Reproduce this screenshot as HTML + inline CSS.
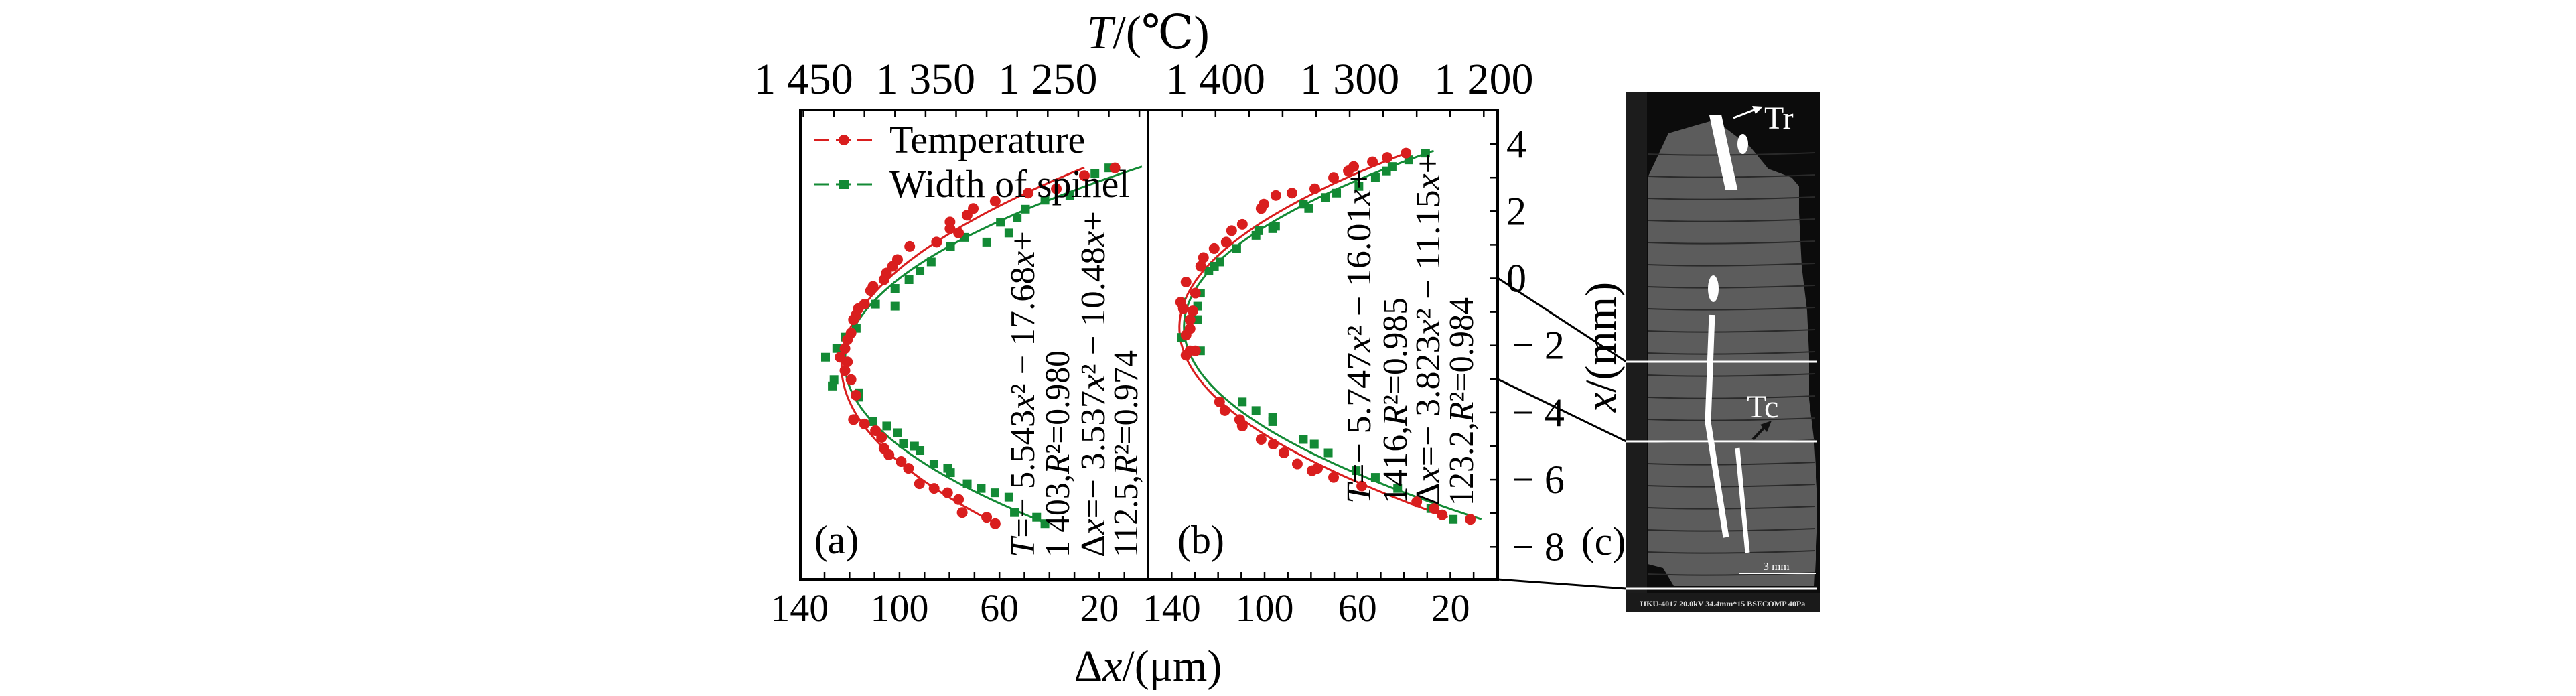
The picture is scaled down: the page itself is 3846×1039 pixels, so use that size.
<!DOCTYPE html>
<html><head><meta charset="utf-8"><style>
html,body{margin:0;padding:0;background:#fff}
svg{display:block}
text{font-family:"Liberation Serif","DejaVu Serif",serif;fill:#000}
</style></head><body>
<svg id="chart" width="3846" height="1039" viewBox="0 0 3846 1039" xmlns="http://www.w3.org/2000/svg">
<g id="plots"></g>
</svg>
<script>
// ----- Panel (a) data -----
const aTempX = [3.29,3.06,2.67,2.54,2.30,2.08,1.88,1.68,1.48,1.35,1.08,0.95,0.56,0.36,0.16,-0.04,-0.24,-0.37,-0.77,-0.90,-1.10,-1.23,-1.63,-1.83,-2.09,-2.35,-2.49,-2.75,-3.02,-3.48,-4.21,-4.34,-4.54,-4.74,-5.07,-5.26,-5.46,-5.66,-6.12,-6.26,-6.39,-6.59,-6.98,-7.12,-7.31];
const aTempT = [1195,1220,1243,1266,1293,1311,1316,1330,1330,1323,1341,1363,1373,1377,1382,1384,1393,1395,1400,1405,1407,1409,1411,1414,1416,1420,1414,1416,1411,1407,1409,1400,1391,1386,1384,1380,1370,1364,1355,1343,1332,1323,1320,1300,1293];
const aWidthX = [3.29,3.13,2.47,2.33,2.06,1.80,1.67,1.35,1.08,1.22,0.95,0.49,0.22,-0.04,-0.30,-0.83,-0.77,-1.49,-1.75,-2.09,-2.35,-3.02,-3.21,-3.41,-3.54,-4.27,-4.40,-4.60,-4.93,-5.00,-5.13,-5.53,-5.66,-5.79,-6.12,-6.26,-6.39,-6.52,-6.98,-7.12,-7.31];
const aWidthD = [16.2,21.8,31.8,41.8,49.6,52.9,59.6,56.2,65.1,74.0,79.6,87.3,91.8,96.2,101.8,101.8,109.6,117.3,121.8,125.1,129.6,126.2,126.9,116.2,116.2,110.7,105.1,100.7,98.4,94.0,91.8,86.2,80.7,79.6,72.9,67.3,61.8,56.2,54.0,45.1,41.8];
const aTempFit = [1380.2,-29.7,-5.71];
const aTempFitRange = [-7.31,3.3];
const aWidthFit = [100.0,-17.49,-3.50];
const aWidthFitRange = [-7.31,3.33];
// ----- Panel (b) data -----
const bTempX = [3.73,3.60,3.47,3.33,3.20,3.00,2.67,2.54,2.47,2.21,2.08,1.61,1.42,1.08,0.89,0.62,0.36,-0.11,-0.44,-0.71,-0.90,-0.97,-1.23,-1.50,-1.69,-2.16,-2.16,-2.29,-3.68,-3.94,-4.21,-4.40,-4.80,-4.94,-5.20,-5.53,-5.73,-5.66,-5.93,-6.19,-6.66,-6.86,-7.05,-7.18];
const bTempT = [1258,1272,1283,1297,1301,1312,1326,1343,1355,1364,1366,1380,1388,1392,1401,1409,1411,1422,1415,1426,1424,1417,1419,1419,1422,1419,1415,1422,1397,1393,1382,1380,1366,1357,1349,1339,1328,1324,1312,1291,1250,1237,1231,1210];
const bWidthX = [3.73,3.53,3.33,3.20,3.00,2.74,2.54,2.41,2.21,2.08,1.55,1.48,1.42,1.28,0.89,0.49,0.36,0.22,-0.44,-0.83,-0.71,-1.23,-1.76,-2.16,-3.68,-3.94,-4.14,-4.27,-4.80,-4.94,-5.20,-5.73,-5.93,-6.26,-6.86,-7.18];
const bWidthD = [30.7,37.9,45.1,47.5,52.3,59.4,69.0,73.8,83.3,81.0,95.3,96.5,102.5,103.7,112.0,119.2,121.6,124.0,127.6,128.8,135.9,128.8,135.9,127.6,109.6,103.7,96.5,96.5,83.3,78.6,72.6,60.6,52.3,42.7,28.4,18.8];
const bTempFit = [1413.5,-18.36,-6.26];
const bTempFitRange = [-7.12,3.73];
const bWidthFit = [126.5,-11.31,-3.90];
const bWidthFitRange = [-7.18,3.80];
// ----- Axis ticks -----
const aTopTicks = [1450,1350,1250];
const aTopTickLabels = ["1 450","1 350","1 250"];
const aBottomTicks = [140,100,60,20];
const bTopTicks = [1400,1300,1200];
const bTopTickLabels = ["1 400","1 300","1 200"];
const bBottomTicks = [140,100,60,20];
const yTicks = [4,2,0,-2,-4,-6,-8];
const yTickLabels = ["4","2","0","\u2212 2","\u2212 4","\u2212 6","\u2212 8"];

// ----- scales -----
const yS = v => 415.5 - v*50.1;
const aD = d => 1193.7 + (140-d)*3.731;
const aT = t => 1199.5 + (1450-t)*1.824;
const bD = d => 1749.3 + (140-d)*3.468;
const bT = t => 1814.8 + (1400-t)*2.0025;

const NS="http://www.w3.org/2000/svg";
const SERIF='"Liberation Serif","DejaVu Serif",serif';
const g=document.getElementById('plots');
function mk(tag,attrs,parent){const e=document.createElementNS(NS,tag);if(tag==='text')e.setAttribute('font-family',SERIF);for(const k in attrs)e.setAttribute(k,attrs[k]);(parent||g).appendChild(e);return e;}

const RED="#d91e1e", GREEN="#138a35";

function fitCurve(coef,range,xs,color,name){
  let d="";const n=80;
  for(let i=0;i<=n;i++){const x=range[0]+(range[1]-range[0])*i/n;const v=coef[0]+coef[1]*x+coef[2]*x*x;d+=(i?"L":"M")+xs(v).toFixed(1)+","+yS(x).toFixed(1);}
  const p=mk('path',{d:d,fill:"none",stroke:color,"stroke-width":3});
  
  
}
function circles(X,V,xs,name){
  for(let i=0;i<X.length;i++){const c=mk('circle',{cx:xs(V[i]),cy:yS(X[i]),r:8,fill:RED});
    
    }
}
function squares(X,V,xs,name){
  for(let i=0;i<X.length;i++){const r=mk('rect',{x:xs(V[i])-6.5,y:yS(X[i])-6.5,width:13,height:13,fill:GREEN});
    
    }
}
fitCurve(aTempFit,aTempFitRange,aT,RED,'fit-temperature-a');
fitCurve(aWidthFit,aWidthFitRange,aD,GREEN,'fit-width-a');
fitCurve(bTempFit,bTempFitRange,bT,RED,'fit-temperature-b');
fitCurve(bWidthFit,bWidthFitRange,bD,GREEN,'fit-width-b');
squares(aWidthX,aWidthD,aD,'width-point-a');
circles(aTempX,aTempT,aT,'temperature-point-a');
squares(bWidthX,bWidthD,bD,'width-point-b');
circles(bTempX,bTempT,bT,'temperature-point-b');

const fTop=164,fBot=865,fL=1195,fM=1714,fR=2236;
const fr=mk('rect',{x:fL,y:fTop,width:fR-fL,height:fBot-fTop,fill:"none",stroke:"#000","stroke-width":4});


const dv=mk('line',{x1:fM,y1:fTop,x2:fM,y2:fBot,stroke:"#000","stroke-width":2.5});



function tick(x1,y1,x2,y2,name){const t=mk('line',{x1:x1,y1:y1,x2:x2,y2:y2,stroke:"#000","stroke-width":2.5});
  
  }
function label(x,y,txt,size,anchor,name){const t=mk('text',{x:x,y:y,"font-size":size,"text-anchor":anchor||"middle"});t.textContent=txt;
  
  return t;}

for(let t=1450;t>=1175;t-=25){const x=aT(t);if(x>fL+2&&x<fM-2)tick(x,fTop,x,fTop+11,'top-tick-a');}
for(let t=1425;t>=1175;t-=25){const x=bT(t);if(x>fM+2&&x<fR-2)tick(x,fTop,x,fTop+11,'top-tick-b');}
for(let d=140;d>=0;d-=10){const x=aD(d);if(x>fL+2&&x<fM-2)tick(x,fBot,x,fBot-11,'bottom-tick-a');}
for(let d=150;d>=0;d-=10){const x=bD(d);if(x>fM+2&&x<fR-2)tick(x,fBot,x,fBot-11,'bottom-tick-b');}
for(let v=4;v>=-8;v--){tick(fR,yS(v),fR-12,yS(v),'y-tick');}

aTopTicks.forEach((t,i)=>label(aT(t),140,aTopTickLabels[i],66,"middle",'top-tick-label-a'));
bTopTicks.forEach((t,i)=>label(bT(t),140,bTopTickLabels[i],66,"middle",'top-tick-label-b'));
aBottomTicks.forEach(d=>label(aD(d),927,String(d),58,"middle",'bottom-tick-label-a'));
bBottomTicks.forEach(d=>label(bD(d),927,String(d),58,"middle",'bottom-tick-label-b'));
yTicks.forEach((v,i)=>{label(v<0?2257:2249,yS(v)+20,yTickLabels[i],60,"start",'y-tick-label');});

const tt=mk('text',{x:1714,y:72,"font-size":70,"text-anchor":"middle"});
tt.innerHTML='<tspan font-style="italic">T</tspan>/(\u2103)';


const bt=mk('text',{x:1714,y:1016,"font-size":66,"text-anchor":"middle"});
bt.innerHTML='\u0394<tspan font-style="italic">x</tspan>/(\u03bcm)';


const yt=mk('text',{x:2412,y:518,"font-size":66,"text-anchor":"middle",transform:"rotate(-90 2412 518)"});
yt.innerHTML='<tspan font-style="italic">x</tspan>/(mm)';



label(1249,826,"(a)",60,"middle",'panel-label-a');
label(1793,826,"(b)",60,"middle",'panel-label-b');
label(2394,828,"(c)",60,"middle",'panel-label-c');

function legend(y,color,square,txt,name){
  const ln=mk('line',{x1:1216,y1:y,x2:1303,y2:y,stroke:color,"stroke-width":3,"stroke-dasharray":"22 10"});
  
  
  const m=square?mk('rect',{x:1253,y:y-7,width:14,height:14,fill:color}):mk('circle',{cx:1260,cy:y,r:8,fill:color});
  
  
  label(1328,y+19,txt,58,"start",name+'-text');
}
legend(209,RED,false,"Temperature",'legend-temperature');
legend(275,GREEN,true,"Width of spinel",'legend-width');

function eq(cx,yb,ytop,html,name){
  const x=cx+17;
  const t=mk('text',{x:x,y:yb,"font-size":52,"text-anchor":"start",transform:"rotate(-90 "+x+" "+yb+")",textLength:(yb-ytop),lengthAdjust:"spacingAndGlyphs"});
  t.innerHTML=html;
  
  
}
const I=s=>'<tspan font-style="italic">'+s+'</tspan>';
eq(1527,832,345,I('T')+'=\u2212 5.543'+I('x')+'\u00b2 \u2212 17.68'+I('x')+'+','equation-temperature-a-1');
eq(1579,832,523,'1 403,'+I('R')+'\u00b2=0.980','equation-temperature-a-2');
eq(1632,832,315,'\u0394'+I('x')+'=\u2212 3.537'+I('x')+'\u00b2 \u2212 10.48'+I('x')+'+','equation-width-a-1');
eq(1681,832,523,'112.5,'+I('R')+'\u00b2=0.974','equation-width-a-2');
eq(2029,752,252,I('T')+'=\u2212 5.747'+I('x')+'\u00b2 \u2212 16.01'+I('x')+'+','equation-temperature-b-1');
eq(2083,752,444,'1416,'+I('R')+'\u00b2=0.985','equation-temperature-b-2');
eq(2132,755,229,'\u0394'+I('x')+'=\u2212 3.823'+I('x')+'\u00b2 \u2212 11.15'+I('x')+'+','equation-width-b-1');
eq(2182,755,444,'123.2,'+I('R')+'\u00b2=0.984','equation-width-b-2');

[[415,540],[566,659],[865,879]].forEach(p=>{const l=mk('line',{x1:fR,y1:p[0],x2:2428,y2:p[1],stroke:"#000","stroke-width":3});
  
  });

const im=mk('g',{});


mk('rect',{x:2428,y:137,width:289,height:777,fill:"#0c0c0c"},im);
mk('rect',{x:2428,y:137,width:31,height:748,fill:"#1c1c1c"},im);
const poly=mk('polygon',{points:"2460,265 2491,199 2525,189 2560,179 2613,219 2640,252 2675,265 2686,278 2686,318 2690,398 2698,464 2701,530 2701,596 2709,663 2713,729 2713,795 2709,875 2499,875 2483,848 2460,842",fill:"#5c5c5c"},im);


for(let y=230;y<870;y+=33){mk('path',{d:"M2460 "+y+" Q2560 "+(y+4)+" 2710 "+(y-2),stroke:"#2a2a2a","stroke-width":2,fill:"none"},im);}
mk('path',{d:"M2558 176 L2566 176 L2588 278 L2580 278 Z",fill:"#fff",stroke:"#fff","stroke-width":10},im);
mk('ellipse',{cx:2602,cy:215,rx:8,ry:15,fill:"#fff"},im);
mk('ellipse',{cx:2558,cy:431,rx:8,ry:20,fill:"#fff"},im);
mk('path',{d:"M2556 470 L2550 630 L2577 802",stroke:"#fff","stroke-width":9,fill:"none"},im);
mk('path',{d:"M2594 669 L2609 825",stroke:"#fff","stroke-width":7,fill:"none"},im);
mk('rect',{x:2428,y:885,width:289,height:29,fill:"#1a1a1a"},im);
[540,659,879].forEach(y=>{const w=mk('line',{x1:2428,y1:y,x2:2713,y2:y,stroke:"#fff","stroke-width":3},im);
  
  });
mk('line',{x1:2596,y1:856,x2:2711,y2:856,stroke:"#fff","stroke-width":2},im);
const s1=mk('text',{x:2652,y:851,"font-size":17,"text-anchor":"middle","font-family":"Liberation Sans, sans-serif",style:"fill:#fff"},im);s1.textContent="3 mm";


const s2=mk('text',{x:2572,y:905,"font-size":12,"text-anchor":"middle","font-family":"Liberation Sans, sans-serif",style:"fill:#ddd;font-weight:bold"},im);s2.textContent="HKU-4017 20.0kV 34.4mm*15 BSECOMP 40Pa";


mk('path',{d:"M2588 176 L2624 162",stroke:"#fff","stroke-width":3},im);
mk('polygon',{points:"2632,159 2616,158 2621,170",fill:"#fff"},im);
const tr=mk('text',{x:2634,y:192,"font-size":48,style:"fill:#fff"},im);tr.textContent="Tr";


mk('path',{d:"M2617 656 L2638 634",stroke:"#111","stroke-width":4},im);
mk('polygon',{points:"2645,628 2628,634 2638,645",fill:"#111"},im);
const tc=mk('text',{x:2608,y:623,"font-size":48,style:"fill:#fff"},im);tc.textContent="Tc";


</script>
</body></html>
